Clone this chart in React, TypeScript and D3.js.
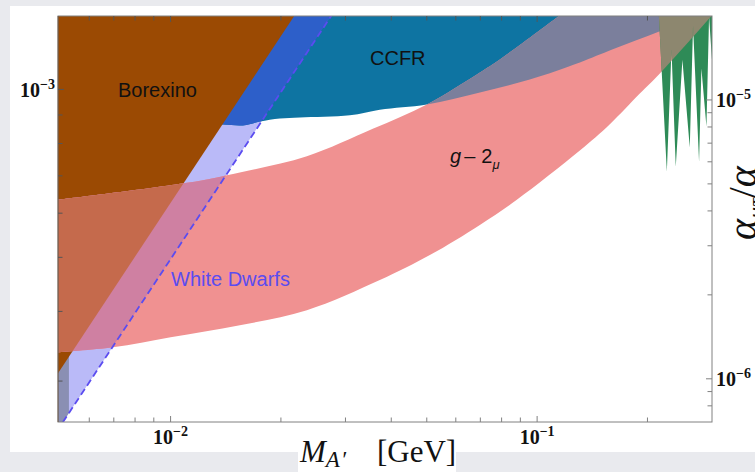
import * as d3 from "d3";

const W = 755;
const H = 472;
const FOUR_PI_ALPHA = (4 * Math.PI) / 137.036;

// axes
const massDomain: [number, number] = [0.00493, 0.3];
const ratioDomain: [number, number] = [7e-7, 2e-5];
const massMajorTicks = [0.01, 0.1];
const massTickExp = ["−2", "−1"];
const massMinorTicks = [0.006, 0.007, 0.008, 0.009, 0.02, 0.03, 0.04, 0.05, 0.06, 0.07, 0.08, 0.09, 0.2];
const couplingMajorTicks = [1e-3];
const couplingTickExp = ["−3"];
const couplingMinorTicks = [3e-4, 4e-4, 5e-4, 6e-4, 7e-4, 8e-4, 9e-4];
const ratioMajorTicks = [1e-6, 1e-5];
const ratioTickExp = ["−6", "−5"];
const ratioMinorTicks = [8e-7, 9e-7, 2e-6, 3e-6, 4e-6, 5e-6, 6e-6, 7e-6, 8e-6, 9e-6];

// Borexino edge (excluded above / left)
const borexinoM = [0.00493, 0.0218];
const borexinoG = [3.1e-4, 1.358e-3];

// white dwarfs edge (dashed)
const wdM = [0.00508, 0.0275];
const wdG = [2.53e-4, 1.358e-3];

// grey strip at the lowest masses
const stripM = [0.004, 0.00528];

// CCFR lower edge
const ccfrM = [0.012, 0.0139, 0.01575, 0.01752, 0.01987, 0.02253, 0.03084, 0.03723, 0.05, 0.0698, 0.0955, 0.1308, 0.1609, 0.2162, 0.3];
const ccfrG = [8.65e-4, 8.65e-4, 8.62e-4, 8.76e-4, 8.87e-4, 8.91e-4, 8.99e-4, 9.2e-4, 9.4e-4, 9.88e-4, 1.042e-3, 1.118e-3, 1.18e-3, 1.272e-3, 1.38e-3];

// g-2 band
const g2UpM = [0.00493, 0.01108, 0.01545, 0.02354, 0.03562, 0.05002, 0.06979, 0.07911, 0.1153];
const g2UpG = [6.34e-4, 6.8e-4, 7.1e-4, 7.59e-4, 8.5e-4, 9.4e-4, 1.073e-3, 1.132e-3, 1.358e-3];
const g2LoM = [0.00493, 0.00696, 0.01, 0.01545, 0.02354, 0.03723, 0.05098, 0.06979, 0.08803, 0.1308, 0.1579, 0.1906, 0.2162, 0.3];
const g2LoG = [3.377e-4, 3.448e-4, 3.594e-4, 3.777e-4, 4.019e-4, 4.552e-4, 5.048e-4, 5.717e-4, 6.34e-4, 7.77e-4, 8.66e-4, 9.83e-4, 1.068e-3, 1.358e-3];

// green spikes (lower edge)
const greenM = [0.2148, 0.2259, 0.2326, 0.2389, 0.2491, 0.2609, 0.2663, 0.2766, 0.2807, 0.2897, 0.2945, 0.3];
const greenG = [1.36e-3, 7.12e-4, 1.18e-3, 7.27e-4, 1.13e-3, 7.87e-4, 1.3e-3, 7.42e-4, 1.09e-3, 8.58e-4, 1.35e-3, 1.13e-3];

const C = {
  brown: "#9b4a03",
  brownPink: "#c56a4c",
  teal: "#0e74a2",
  slate: "#7b7f9c",
  lavender: "#babaf8",
  lavTeal: "#2d5fc9",
  lavPink: "#cf80a2",
  lavStrip: "#8a8fb3",
  pink: "#f09191",
  green: "#2e8b57",
  khaki: "#8d876f",
  dash: "#5b4cf0",
  axis: "#808080",
};

const zip = (a: number[], b: number[]) => a.map((v, i) => [v, b[i]] as [number, number]);

export default function App() {
  const x = d3.scaleLog().domain(massDomain).range([58, 712]);
  const yR = d3.scaleLog().domain(ratioDomain).range([422, 16]);
  const yL = d3
    .scaleLog()
    .domain(ratioDomain.map((r) => Math.sqrt(r * FOUR_PI_ALPHA)))
    .range([422, 16]);

  const gTop = yL.invert(0);
  const gBot = yL.invert(440);
  const mL = x.invert(40);
  const mR = x.invert(730);

  const pt = (m: number, g: number) => `${x(m)},${yL(g)}`;
  const curve = d3
    .line<[number, number]>()
    .x((d) => x(d[0]))
    .y((d) => yL(d[1]))
    .curve(d3.curveCatmullRom.alpha(0.5));
  const cont = (s: string) => s.replace(/^M/, "L");

  const pathB =
    `M${pt(borexinoM[0], borexinoG[0])}L${pt(borexinoM[1], borexinoG[1])}` +
    `L${pt(borexinoM[1], gTop)}L${pt(mL, gTop)}L${pt(mL, borexinoG[0])}Z`;
  const pathW =
    `M${pt(wdM[0], wdG[0])}L${pt(wdM[1], wdG[1])}` +
    `L${pt(wdM[1], gTop)}L${pt(mL, gTop)}L${pt(mL, gBot)}L${pt(wdM[0], gBot)}Z`;
  const pathS = `M${pt(stripM[0], gTop)}L${pt(stripM[1], gTop)}L${pt(stripM[1], gBot)}L${pt(stripM[0], gBot)}Z`;
  const pathC =
    curve(zip(ccfrM, ccfrG))! +
    `L${pt(mR, ccfrG[ccfrG.length - 1])}L${pt(mR, gTop)}L${pt(ccfrM[0], gTop)}Z`;
  const lo = zip(g2LoM, g2LoG).reverse();
  const pathP =
    curve(zip(g2UpM, g2UpG))! +
    `L${pt(g2UpM[g2UpM.length - 1], gTop)}L${pt(mR, gTop)}L${pt(mR, g2LoG[g2LoG.length - 1])}` +
    cont(curve(lo)!) +
    `L${pt(mL, g2LoG[0])}L${pt(mL, g2UpG[0])}Z`;
  const pathG =
    "M" + greenM.map((m, i) => pt(m, greenG[i])).join("L") +
    `L${pt(mR, greenG[greenG.length - 1])}L${pt(mR, gTop)}L${pt(greenM[0], gTop)}Z`;

  const serif = "'Liberation Serif', 'Times New Roman', serif";
  const sans = "'Liberation Sans', Arial, sans-serif";

  return (
    <svg width={W} height={H} style={{ position: "absolute", left: 0, top: 0 }}>
      <defs>
        <clipPath id="plot">
          <rect x={58} y={16} width={654} height={406} />
        </clipPath>
        <clipPath id="clipW"><path d={pathW} /></clipPath>
        <clipPath id="clipC"><path d={pathC} /></clipPath>
        <clipPath id="clipB"><path d={pathB} /></clipPath>
        <clipPath id="clipP"><path d={pathP} /></clipPath>
      </defs>
      <rect width={W} height={H} fill="#e9eaee" />
      <rect x={10} y={6} width={W} height={446} fill="#fff" />
      <rect x={298} y={440} width={158} height={32} fill="#fff" />

      <g clipPath="url(#plot)">
        <path d={pathW} fill={C.lavender} />
        <path d={pathS} fill={C.lavStrip} clipPath="url(#clipW)" />
        <path d={pathC} fill={C.teal} />
        <path d={pathC} fill={C.lavTeal} clipPath="url(#clipW)" />
        <path d={pathB} fill={C.brown} />
        <path d={pathP} fill={C.pink} />
        <path d={pathP} fill={C.lavPink} clipPath="url(#clipW)" />
        <path d={pathP} fill={C.slate} clipPath="url(#clipC)" />
        <path d={pathP} fill={C.brownPink} clipPath="url(#clipB)" />
        <path d={pathG} fill={C.green} />
        <path d={pathG} fill={C.khaki} clipPath="url(#clipP)" />
        <line
          x1={x(wdM[0])}
          y1={yL(wdG[0])}
          x2={x(wdM[1])}
          y2={yL(wdG[1])}
          stroke={C.dash}
          strokeWidth={1.8}
          strokeDasharray="7 4"
        />
      </g>

      {/* frame */}
      <rect x={58} y={16} width={654} height={406} fill="none" stroke={C.axis} strokeWidth={1} />
      <line x1={58} x2={58} y1={16} y2={422} stroke="#5a3a20" strokeOpacity={0.6} />

      {/* mass ticks, bottom and top */}
      {[...massMajorTicks, ...massMinorTicks].map((t, i) => {
        const len = i < massMajorTicks.length ? 6 : 4.5;
        return (
          <g key={"m" + t} stroke={C.axis}>
            <line x1={x(t)} x2={x(t)} y1={422} y2={422 - len} />
            <line x1={x(t)} x2={x(t)} y1={16} y2={16 + len} stroke="#555" />
          </g>
        );
      })}
      {[...couplingMajorTicks, ...couplingMinorTicks].map((t, i) => (
        <line
          key={"c" + t}
          x1={58}
          x2={58 + (i < couplingMajorTicks.length ? 6 : 4.5)}
          y1={yL(t)}
          y2={yL(t)}
          stroke="#555"
        />
      ))}
      {[...ratioMajorTicks, ...ratioMinorTicks].map((t, i) => (
        <line
          key={"r" + t}
          x1={712}
          x2={712 - (i < ratioMajorTicks.length ? 6 : 4.5)}
          y1={yR(t)}
          y2={yR(t)}
          stroke={C.axis}
        />
      ))}

      {/* tick labels */}
      <g fontFamily={serif} fontWeight="bold" fontSize={20} fill="#111">
        {massMajorTicks.map((t, i) => (
          <text key={"ml" + t} x={x(t)} y={444} textAnchor="middle">
            10<tspan fontSize={14} dy={-8}>{massTickExp[i]}</tspan>
          </text>
        ))}
        {couplingMajorTicks.map((t, i) => (
          <text key={"cl" + t} x={55} y={yL(t) + 7.5} textAnchor="end">
            10<tspan fontSize={14} dy={-8}>{couplingTickExp[i]}</tspan>
          </text>
        ))}
        {ratioMajorTicks.map((t, i) => (
          <text key={"rl" + t} x={716} y={yR(t) + 7} textAnchor="start">
            10<tspan fontSize={14} dy={-8}>{ratioTickExp[i]}</tspan>
          </text>
        ))}
      </g>

      {/* axis titles */}
      <text x={300} y={462} fontFamily={serif} fontSize={31} fill="#111">
        <tspan fontStyle="italic">M</tspan>
        <tspan fontStyle="italic" fontSize={23} dy={5}>A</tspan>
        <tspan fontStyle="italic" fontSize={23} dx={1}>′</tspan>
        <tspan x={377} dy={-5}>[GeV]</tspan>
      </text>
      <text
        transform="translate(756,203) rotate(-90)"
        textAnchor="middle"
        fontFamily={serif}
        fontSize={40}
        fill="#111"
      >
        <tspan fontStyle="italic">α</tspan>
        <tspan fontStyle="italic" fontSize={24} dy={8}>μτ</tspan>
        <tspan dy={-8}>/</tspan>
        <tspan fontStyle="italic">α</tspan>
      </text>

      {/* region labels */}
      <g fontFamily={sans} fontSize={20}>
        <text x={118} y={97} fill="#111">Borexino</text>
        <text x={370} y={65} fill="#111">CCFR</text>
        <text x={450} y={163} fill="#111">
          <tspan fontStyle="italic">g</tspan>
          <tspan dx={3}>–</tspan>
          <tspan dx={6}>2</tspan>
          <tspan fontStyle="italic" fontSize={13} dy={6}>μ</tspan>
        </text>
        <text x={171} y={286} fill={C.dash}>White Dwarfs</text>
      </g>
    </svg>
  );
}
